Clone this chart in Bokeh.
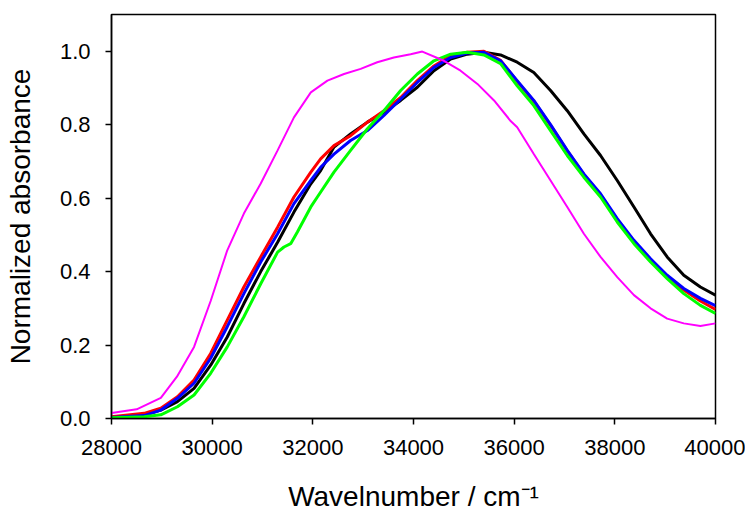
from bokeh.plotting import figure
from bokeh.embed import file_html
from bokeh.resources import INLINE
from bokeh.models import Range1d, FixedTicker

# ---- data ----
black_x = [28000, 28650, 28980, 29310, 29640, 29970, 30300, 30630, 30965, 31300,
           31625, 31960, 32155, 32420, 32750, 33085, 33413, 33745, 34076, 34406,
           34738, 35069, 35400, 35730, 36060, 36390, 36723, 37055, 37385, 37716,
           38048, 38380, 38710, 39040, 39370, 39700, 40000]
black = [0.003, 0.010, 0.023, 0.046, 0.082, 0.145, 0.222, 0.313, 0.400, 0.480,
         0.562, 0.639, 0.675, 0.739, 0.775, 0.807, 0.834, 0.866, 0.902, 0.947,
         0.979, 0.992, 0.997, 0.990, 0.970, 0.942, 0.893, 0.838, 0.775, 0.716,
         0.648, 0.576, 0.503, 0.440, 0.390, 0.358, 0.336]

red_x = [28000, 28650, 28980, 29310, 29640, 29970, 30300, 30630, 30965, 31300,
         31625, 31960, 32155, 32420, 32750, 33085, 33413, 33745, 34076, 34406,
         34738, 35069, 35400, 35730, 36060, 36390, 36723, 37055, 37385, 37716,
         38048, 38380, 38710, 39040, 39370, 39700, 40000]
red = [0.005, 0.014, 0.028, 0.059, 0.105, 0.177, 0.268, 0.358, 0.440, 0.521,
       0.603, 0.671, 0.707, 0.743, 0.770, 0.807, 0.838, 0.874, 0.920, 0.960,
       0.988, 0.997, 1.000, 0.975, 0.918, 0.864, 0.798, 0.729, 0.664, 0.609,
       0.540, 0.480, 0.430, 0.386, 0.350, 0.320, 0.297]

blue_x = [28000, 28650, 28980, 29310, 29640, 29970, 30300, 30630, 30965, 31300,
          31625, 31960, 32155, 32420, 32750, 33085, 33413, 33745, 34076, 34406,
          34738, 35069, 35400, 35730, 36060, 36390, 36723, 37055, 37385, 37716,
          38048, 38380, 38710, 39040, 39370, 39700, 40000]
blue = [0.003, 0.008, 0.023, 0.055, 0.096, 0.164, 0.250, 0.340, 0.426, 0.503,
        0.585, 0.648, 0.684, 0.720, 0.757, 0.784, 0.825, 0.870, 0.915, 0.956,
        0.983, 0.995, 0.997, 0.974, 0.920, 0.866, 0.800, 0.730, 0.666, 0.612,
        0.544, 0.485, 0.435, 0.390, 0.354, 0.327, 0.307]

green_x = [28000, 28650, 28980, 29310, 29640, 29970, 30300, 30630, 30965, 31300,
           31427, 31560, 31693, 31960, 32090, 32420, 32750, 33085, 33413, 33745,
           34076, 34406, 34738, 35069, 35400, 35730, 36060, 36390, 36723, 37055,
           37385, 37716, 38048, 38380, 38710, 39040, 39370, 39700, 40000]
green = [0.002, 0.005, 0.010, 0.032, 0.064, 0.123, 0.195, 0.277, 0.367, 0.453,
         0.467, 0.476, 0.508, 0.576, 0.603, 0.671, 0.730, 0.789, 0.838, 0.893,
         0.938, 0.974, 0.992, 0.997, 0.990, 0.966, 0.906, 0.852, 0.784, 0.716,
         0.657, 0.603, 0.535, 0.476, 0.426, 0.381, 0.340, 0.308, 0.286]

magenta_x = [28000, 28500, 28980, 29300, 29640, 29970, 30300, 30630, 30965, 31300,
             31625, 31960, 32290, 32620, 32950, 33280, 33610, 33943, 34175, 34605,
             34935, 35270, 35600, 35930, 36060, 36390, 36723, 37055, 37385, 37716,
             38048, 38380, 38710, 39040, 39370, 39700, 40000]
magenta = [0.015, 0.025, 0.056, 0.114, 0.195, 0.320, 0.458, 0.558, 0.640, 0.730,
           0.820, 0.888, 0.920, 0.938, 0.952, 0.970, 0.983, 0.992, 0.999, 0.974,
           0.947, 0.911, 0.866, 0.810, 0.793, 0.720, 0.648, 0.576, 0.503, 0.440,
           0.385, 0.336, 0.300, 0.272, 0.259, 0.252, 0.259]

x_ticks = [28000, 30000, 32000, 34000, 36000, 38000, 40000]
y_ticks = [0.0, 0.2, 0.4, 0.6, 0.8, 1.0]

p = figure(width=745, height=516, output_backend="svg", toolbar_location=None,
           x_range=Range1d(28000, 40000), y_range=Range1d(0, 1.1),
           min_border_left=111, min_border_right=30, min_border_top=14,
           min_border_bottom=98)

p.line(black_x, black, line_color="#000000", line_width=3)
p.line(red_x, red, line_color="#FF0000", line_width=3)
p.line(blue_x, blue, line_color="#0000FF", line_width=3)
p.line(green_x, green, line_color="#00FF00", line_width=3)
p.line(magenta_x, magenta, line_color="#FF00FF", line_width=2)

p.xgrid.visible = False
p.ygrid.visible = False
p.outline_line_color = "black"
p.outline_line_width = 1.5
p.outline_line_alpha = 1.0

for ax in (p.xaxis[0], p.yaxis[0]):
    ax.axis_line_color = "black"
    ax.axis_line_width = 1.5
    ax.major_tick_line_color = "black"
    ax.major_tick_line_width = 1.5
    ax.major_tick_in = 0
    ax.major_tick_out = 6
    ax.minor_tick_line_color = None
    ax.major_label_text_font = "Liberation Sans"
    ax.major_label_text_font_size = "22px"
    ax.major_label_text_color = "black"
    ax.axis_label_text_font = "Liberation Sans"
    ax.axis_label_text_font_size = "28px"
    ax.axis_label_text_font_style = "normal"
    ax.axis_label_text_color = "black"

p.xaxis[0].ticker = FixedTicker(ticks=x_ticks)
p.yaxis[0].ticker = FixedTicker(ticks=y_ticks)
p.xaxis[0].major_label_overrides = {t: str(t) for t in x_ticks}
p.yaxis[0].major_label_overrides = {t: f"{t:.1f}" for t in y_ticks}
p.xaxis[0].major_label_standoff = 15
p.yaxis[0].major_label_standoff = 15
p.xaxis[0].axis_label = "Wavelnumber / cm\u207b\u00b9"
p.yaxis[0].axis_label = "Normalized absorbance"
p.xaxis[0].axis_label_standoff = 23
p.yaxis[0].axis_label_standoff = 21

open("out.html", "w").write(file_html(p, INLINE))
